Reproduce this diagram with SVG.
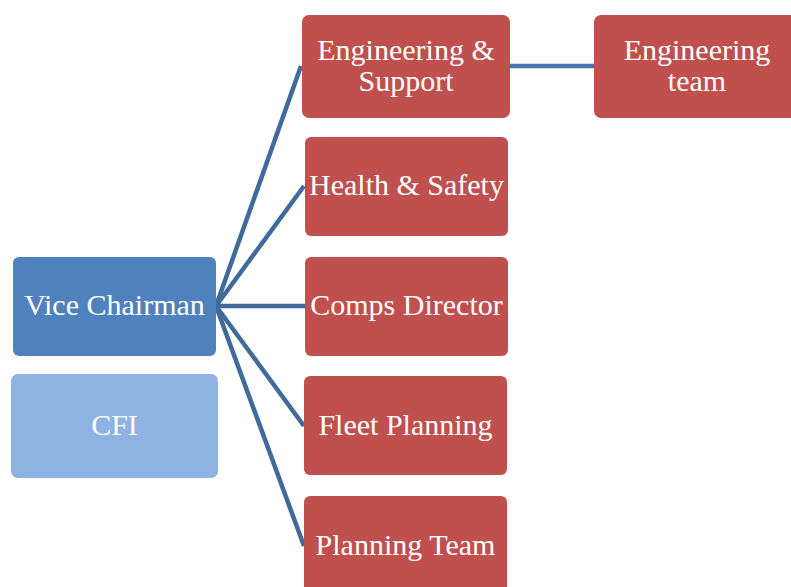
<svg xmlns="http://www.w3.org/2000/svg" width="791" height="587" viewBox="0 0 791 587">
<style>
.red{fill:#C0504D}
.lbl{font-family:"Liberation Serif","DejaVu Serif",serif;font-size:30px;fill:#FFFFFF;text-anchor:middle}
.con{stroke:#3F6A9B;stroke-width:4.5;fill:none;stroke-linecap:butt}
</style>
<rect width="791" height="587" fill="#FFFFFF"/>
<g id="connectors">
<line class="con" x1="216" y1="306" x2="301" y2="66"/>
<line class="con" x1="216" y1="306" x2="304" y2="186"/>
<line class="con" x1="216" y1="306" x2="305" y2="306"/>
<line class="con" x1="216" y1="306" x2="304" y2="426"/>
<line class="con" x1="216" y1="306" x2="304" y2="546"/>
<line class="con" x1="510" y1="66" x2="594" y2="66" style="stroke:#4776AE"/>
</g>
<g id="vice-chairman">
<rect x="13" y="257" width="203" height="99" rx="6" fill="#4F81BD"/>
<text class="lbl" x="114.5" y="315">Vice Chairman</text>
</g>
<g id="cfi">
<rect x="11" y="374" width="207" height="104" rx="7" fill="#8EB3E2"/>
<text class="lbl" x="114.5" y="435">CFI</text>
</g>
<g id="engineering-support">
<rect class="red" x="302" y="15" width="208" height="103" rx="7"/>
<text class="lbl" x="406" y="60">Engineering &amp;</text>
<text class="lbl" x="406" y="91">Support</text>
</g>
<g id="engineering-team">
<rect class="red" x="594" y="15" width="210" height="103" rx="7"/>
<text class="lbl" x="697" y="60">Engineering</text>
<text class="lbl" x="697" y="91">team</text>
</g>
<g id="health-safety">
<rect class="red" x="305" y="137" width="203" height="99" rx="6"/>
<text class="lbl" x="406.5" y="195">Health &amp; Safety</text>
</g>
<g id="comps-director">
<rect class="red" x="305" y="257" width="203" height="99" rx="6"/>
<text class="lbl" x="406.5" y="315">Comps Director</text>
</g>
<g id="fleet-planning">
<rect class="red" x="304" y="376" width="203" height="99" rx="6"/>
<text class="lbl" x="405.5" y="435">Fleet Planning</text>
</g>
<g id="planning-team">
<rect class="red" x="304" y="496" width="203" height="99" rx="6"/>
<text class="lbl" x="405.5" y="555">Planning Team</text>
</g>
</svg>
